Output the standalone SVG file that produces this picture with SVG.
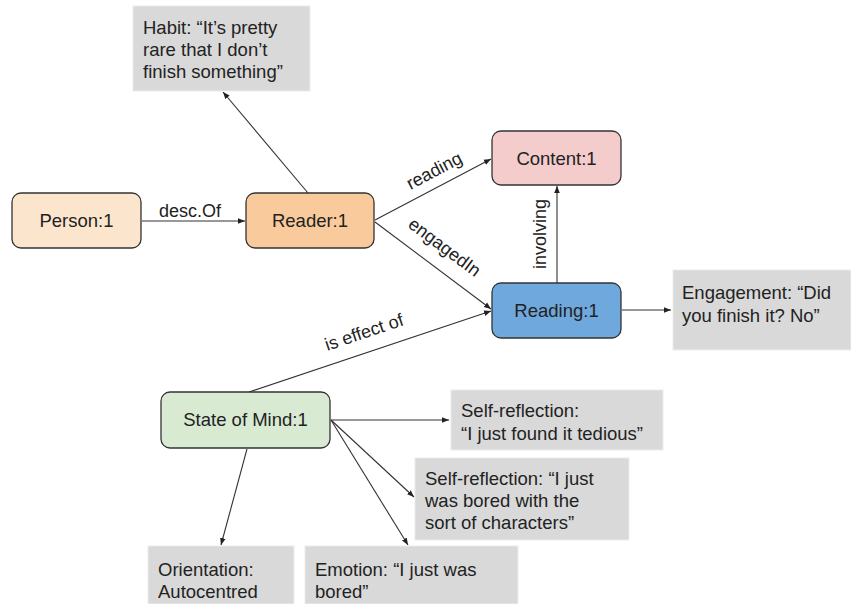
<svg xmlns="http://www.w3.org/2000/svg" width="851" height="604" viewBox="0 0 851 604">
<defs>
<style>
text{font-family:"Liberation Sans",Arial,sans-serif;font-size:18.5px;fill:#222}
.node{stroke:#333;stroke-width:1.3}
.note{fill:#d9d9d9;stroke:#ececec;stroke-width:1}
.c{text-anchor:middle}
.lbl{font-size:18px;text-anchor:middle}
.edge{stroke:#333;stroke-width:1.1;fill:none;marker-end:url(#ah)}
</style>
<marker id="ah" viewBox="0 0 10 10" refX="10" refY="5" markerWidth="7" markerHeight="7" markerUnits="userSpaceOnUse" orient="auto">
<path d="M0,1 L10,5 L0,9 z" fill="#222"/>
</marker>
</defs>
<rect width="851" height="604" fill="#fff"/>

<g id="connectors">
<line class="edge" x1="308" y1="193" x2="223" y2="92"/>
<line class="edge" x1="142" y1="221" x2="245" y2="221"/>
<line class="edge" x1="375" y1="220" x2="491" y2="159"/>
<line class="edge" x1="375" y1="222" x2="491" y2="309"/>
<line class="edge" x1="557" y1="283" x2="557" y2="186"/>
<line class="edge" x1="622" y1="310" x2="671" y2="310"/>
<line class="edge" x1="249" y1="392" x2="491" y2="311"/>
<line class="edge" x1="331" y1="420" x2="449" y2="420"/>
<line class="edge" x1="331" y1="420" x2="414" y2="497"/>
<line class="edge" x1="331" y1="420" x2="408" y2="545"/>
<line class="edge" x1="247" y1="449" x2="221" y2="545"/>
<text class="lbl" x="190" y="217">desc.Of</text>
<text class="lbl" transform="translate(437,176) rotate(-27.7)">reading</text>
<text class="lbl" transform="translate(441,252) rotate(36.9)">engagedIn</text>
<text class="lbl" transform="translate(546,234) rotate(-90)">involving</text>
<text class="lbl" transform="translate(366,338) rotate(-18.6)">is effect of</text>
</g>

<g id="habit">
<rect class="note" x="133" y="6" width="177" height="85"/>
<text x="143" y="34">Habit: “It’s pretty</text>
<text x="143" y="56">rare that I don’t</text>
<text x="143" y="78">finish something”</text>
</g>
<g id="person">
<rect class="node" x="12" y="193" width="129" height="55" rx="9" fill="#fce5cd"/>
<text class="c" x="76.5" y="227">Person:1</text>
</g>
<g id="reader">
<rect class="node" x="246" y="193" width="128" height="55" rx="9" fill="#f9cb9c"/>
<text class="c" x="310" y="227">Reader:1</text>
</g>
<g id="content">
<rect class="node" x="492" y="131" width="129" height="54" rx="9" fill="#f4cccc"/>
<text class="c" x="556.5" y="165">Content:1</text>
</g>
<g id="reading">
<rect class="node" x="492" y="283" width="129" height="55" rx="9" fill="#6fa8dc"/>
<text class="c" x="556.5" y="317">Reading:1</text>
</g>
<g id="engagement">
<rect class="note" x="673" y="270" width="178" height="80"/>
<text x="682" y="299">Engagement: “Did</text>
<text x="682" y="322">you finish it? No”</text>
</g>
<g id="stateofmind">
<rect class="node" x="161" y="392" width="169" height="56" rx="9" fill="#d9ead3"/>
<text class="c" x="245.5" y="426">State of Mind:1</text>
</g>
<g id="selfreflection1">
<rect class="note" x="451" y="390" width="212" height="60"/>
<text x="461" y="417">Self-reflection:</text>
<text x="461" y="440">“I just found it tedious”</text>
</g>
<g id="selfreflection2">
<rect class="note" x="415" y="458" width="214" height="82"/>
<text x="425" y="485">Self-reflection: “I just</text>
<text x="425" y="507">was bored with the</text>
<text x="425" y="529">sort of characters”</text>
</g>
<g id="orientation">
<rect class="note" x="148" y="546" width="146" height="58"/>
<text x="158" y="576">Orientation:</text>
<text x="158" y="598">Autocentred</text>
</g>
<g id="emotion">
<rect class="note" x="305" y="546" width="213" height="58"/>
<text x="315" y="576">Emotion: “I just was</text>
<text x="315" y="598">bored”</text>
</g>
</svg>
